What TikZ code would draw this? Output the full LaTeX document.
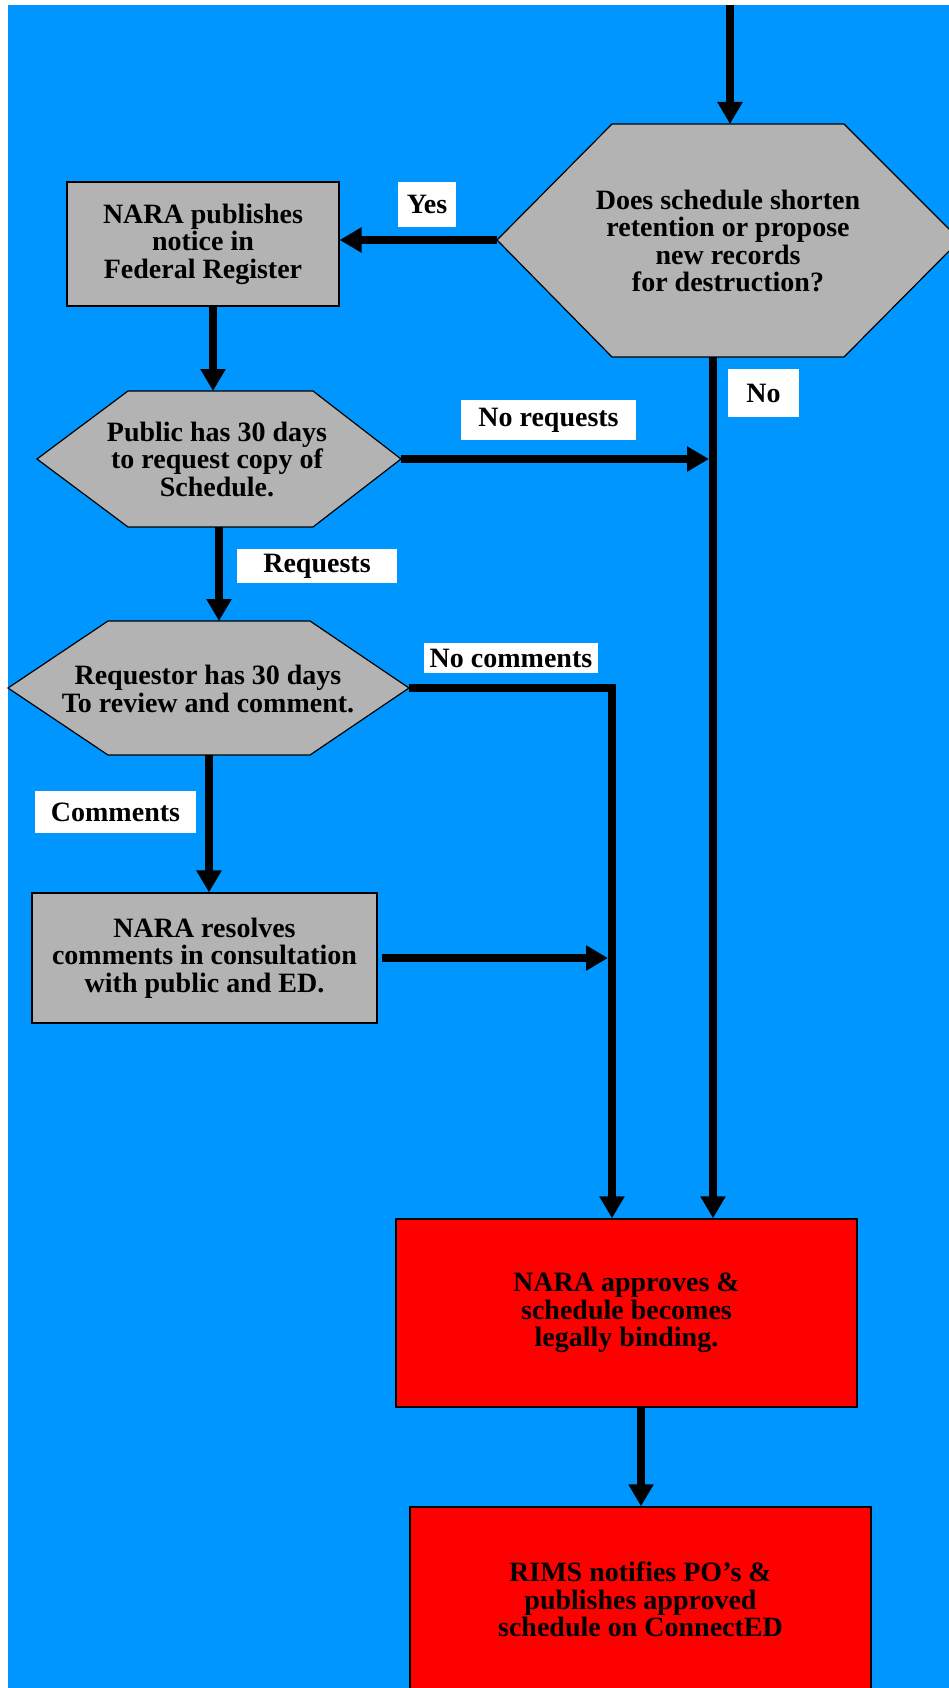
\documentclass[tikz,border=0pt]{standalone}
\usepackage{fontspec}
\setmainfont{Liberation Serif}
\usetikzlibrary{arrows.meta, positioning, calc}
\definecolor{skyblue}{RGB}{0,150,255}
\definecolor{boxgrey}{RGB}{179,179,179}
\definecolor{alertred}{RGB}{255,0,0}

\tikzset{
  greyshape/.style={fill=boxgrey, draw=black, line width=1.2pt},
  greybox/.style={greyshape, align=center, inner sep=0pt},
  redbox/.style={fill=alertred, draw=black, line width=1.5pt, align=center, inner sep=0pt},
  hextext/.style={align=center, inner sep=0pt},
  tag/.style={fill=white, inner sep=0pt},
  flow/.style={line width=8pt, -{Triangle[length=22pt, width=24pt]}}
}

\begin{document}
\begin{tikzpicture}[x=1pt, y=-1pt, font=\fontsize{28}{27.5}\selectfont\bfseries]
    % page
    \useasboundingbox (0,0) rectangle (949,1688);
    \fill[white] (0,0) rectangle (949,1688);
    \fill[skyblue] (8,5) rectangle (949,1688);
    % first question
    \draw[greyshape] (612,124) -- (844,124) -- (960,240) -- (844,357) -- (612,357) -- (497,240) -- cycle;
    \node[hextext] (shorten) at (728,241) {Does schedule shorten\\retention or  propose\\new records\\for destruction?};
    \coordinate (entry) at (730,5);
    \coordinate (shortenN) at (730,124);
    \coordinate (shortenW) at (497,240);
    \coordinate (shortenS) at (713,357);
    % publish notice
    \node[greybox, minimum width=272pt, minimum height=124pt] (notice) at (203,244) {NARA publishes\\notice in\\Federal Register};
    % public request
    \draw[greyshape] (128,391) -- (313,391) -- (401,459) -- (313,527) -- (128,527) -- (37,459) -- cycle;
    \node[hextext] (public) at (217,459) {Public has 30 days\\to request copy of\\Schedule.};
    \coordinate (publicN) at (213,391);
    \coordinate (publicE) at (401,459);
    \coordinate (publicS) at (219,527);
    % requestor review
    \draw[greyshape] (108,621) -- (310,621) -- (409,688) -- (310,755) -- (108,755) -- (8,688) -- cycle;
    \node[hextext] (review) at (208,689) {Requestor has 30 days\\To review and comment.};
    \coordinate (reviewN) at (219,621);
    \coordinate (reviewE) at (409,688);
    \coordinate (reviewS) at (209,755);
    \coordinate (commentsDrop) at (612,688);
    % resolve comments
    \node[greybox, minimum width=345pt, minimum height=130pt] (resolve) at (204.5,958) {NARA resolves\\comments in consultation\\with public and ED.};
    % approval
    \node[redbox, minimum width=461pt, minimum height=188pt] (approve) at (626.5,1313) {NARA approves \&\\schedule becomes\\legally binding.};
    \coordinate (approveIn) at (641,1407);
    \node[redbox, minimum width=461pt, minimum height=185pt] (notify) at (640.5,1599.5) {RIMS notifies PO’s \&\\publishes approved\\schedule on ConnectED};
    % connectors
    \draw[flow] (entry) -- (shortenN);
    \draw[flow] (shortenW) -- (notice.east |- shortenW);
    \draw[flow] (notice.south -| publicN) -- (publicN);
    \draw[flow, shorten >=4pt] (publicE) -- (publicE -| shortenS);
    \draw[flow] (shortenS) -- (approve.north -| shortenS);
    \draw[flow] (publicS) -- (reviewN);
    \draw[flow] (reviewE) -- (commentsDrop) -- (approve.north -| commentsDrop);
    \draw[flow] (reviewS) -- (resolve.north -| reviewS);
    \draw[flow, shorten <=4pt, shorten >=4pt] (resolve.east) -- (resolve.east -| commentsDrop);
    \draw[flow] (approveIn) -- (notify.north -| approveIn);
    % labels
    \node[tag, minimum width=58pt, minimum height=45pt] (yes) at (427,204.5) {Yes};
    \node[tag, minimum width=71pt, minimum height=48pt] (no) at (763.5,393) {No};
    \node[tag, minimum width=175pt, minimum height=40pt] (noRequests) at (548.5,420) {No requests};
    \node[tag, minimum width=160pt, minimum height=34pt] (requests) at (317,566) {Requests};
    \node[tag, minimum width=174pt, minimum height=30pt] (noComments) at (511,658) {No comments};
    \node[tag, minimum width=161pt, minimum height=42pt] (comments) at (115.5,812) {Comments};
\end{tikzpicture}
\end{document}
